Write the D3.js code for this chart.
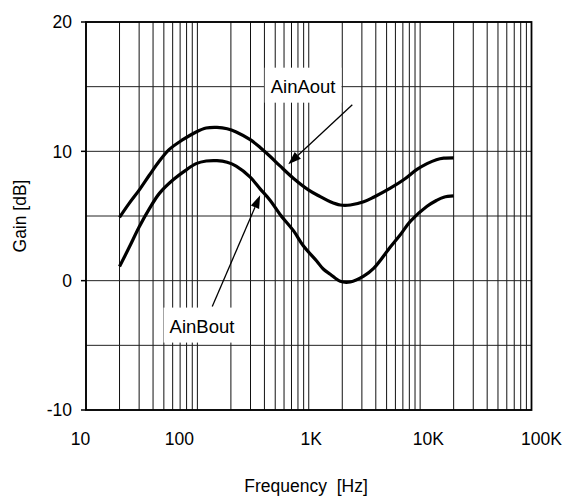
<!DOCTYPE html>
<html><head><meta charset="utf-8">
<script src="https://cdn.jsdelivr.net/npm/d3@7"></script>
<style>
html,body{margin:0;padding:0;background:#fff;}
text{font-family:"Liberation Sans",Arial,sans-serif;fill:#000;}
</style></head>
<body><svg id="c" width="578" height="499"></svg>
<script>
// ---- data ----
const freqTicks = [10, 100, 1000, 10000, 100000];
const freqTickLabels = ["10", "100", "1K", "10K", "100K"];
const gainTicks = [-10, 0, 10, 20];
const gainGrid = [-10, -5, 0, 5, 10, 15, 20];

const ainAoutFreq = [20, 24.5, 30, 37, 45.6, 56, 74, 97.5, 120, 150, 185, 223, 298, 366, 451, 555, 731, 1000, 1268, 1560, 1919, 2361, 3111, 3822, 5400, 7110, 9370, 11540, 14000, 16300, 20000];
const ainAoutGain = [4.9, 6.0, 7.0, 8.15, 9.25, 10.15, 10.9, 11.5, 11.8, 11.85, 11.75, 11.5, 10.9, 10.3, 9.6, 8.85, 7.9, 7.0, 6.5, 6.1, 5.85, 5.85, 6.1, 6.45, 7.15, 7.8, 8.6, 9.05, 9.35, 9.47, 9.5];

const ainBoutFreq = [20, 24.5, 30, 37, 45.6, 60.6, 79, 97.5, 120, 150, 185, 223, 298, 366, 451, 555, 731, 893, 1183, 1350, 1560, 1919, 2361, 3111, 3822, 5400, 6637, 8200, 11540, 14000, 16300, 20000];
const ainBoutGain = [1.1, 2.6, 4.15, 5.55, 6.75, 7.8, 8.55, 9.05, 9.25, 9.28, 9.15, 8.85, 8.0, 7.1, 6.2, 5.1, 3.85, 2.7, 1.5, 0.9, 0.5, -0.05, -0.1, 0.35, 0.95, 2.6, 3.55, 4.6, 5.75, 6.2, 6.45, 6.55];

const labels = ["AinAout", "AinBout"];
const labelPos = [[890, 15.05], [110, -3.5]];      // label centre (Hz, dB)
const arrowFrom = [[2460, 13.6], [136, -2.0]];     // arrow start (Hz, dB)
const arrowTo = [[655, 9.0], [366, 6.6]];          // arrow tip (Hz, dB)

// ---- layout ----
const svg = d3.select("#c");
const L = 86, R = 531.5, T = 22, B = 410;
const x = d3.scaleLog().domain([10, 100000]).range([L, R]);
const y = d3.scaleLinear().domain([-10, 20]).range([B, T]);

// grid
const vgrid = [];
for (let d = 10; d < 100000; d *= 10) for (let k = 1; k <= 9; k++) vgrid.push(d * k);
vgrid.push(100000);
svg.append("g").selectAll("line").data(vgrid).join("line")
  .attr("x1", d => x(d)).attr("x2", d => x(d)).attr("y1", T).attr("y2", B)
  .attr("stroke", "#111").attr("stroke-width", 1);
svg.append("g").selectAll("line").data(gainGrid).join("line")
  .attr("x1", L).attr("x2", R).attr("y1", d => y(d)).attr("y2", d => y(d))
  .attr("stroke", "#222").attr("stroke-width", 1);

// frame
svg.append("rect").attr("x", L).attr("y", T).attr("width", R - L).attr("height", B - T)
  .attr("fill", "none").attr("stroke", "#000").attr("stroke-width", 1.8);

// y ticks
const ya = svg.append("g");
ya.selectAll("line").data(gainTicks).join("line")
  .attr("x1", L - 5).attr("x2", L).attr("y1", d => y(d)).attr("y2", d => y(d))
  .attr("stroke", "#000").attr("stroke-width", 1.5);
ya.selectAll("text").data(gainTicks).join("text")
  .attr("x", 72).attr("y", d => y(d)).attr("dy", "0.36em")
  .attr("text-anchor", "end").attr("font-size", 17.5).text(d => d);

// x tick labels
const xLabelShift = [-5.5, -18, 2.5, 8.3, 10];
svg.append("g").selectAll("text").data(freqTicks).join("text")
  .attr("x", (d, i) => x(d) + xLabelShift[i]).attr("y", 445)
  .attr("text-anchor", "middle").attr("font-size", 17.5).text((d, i) => freqTickLabels[i]);

// axis titles
svg.append("text").attr("x", 306).attr("y", 492).attr("text-anchor", "middle")
  .attr("font-size", 17.5).attr("xml:space", "preserve").text("Frequency  [Hz]");
svg.append("text").attr("transform", "translate(26,216) rotate(-90)").attr("text-anchor", "middle")
  .attr("font-size", 17.5).text("Gain [dB]");

// curves
const line = d3.line().x(d => x(d[0])).y(d => y(d[1])).curve(d3.curveCatmullRom.alpha(0.5));
[[ainAoutFreq, ainAoutGain], [ainBoutFreq, ainBoutGain]].forEach(([f, g]) => {
  svg.append("path").datum(f.map((v, i) => [v, g[i]])).attr("d", line)
    .attr("fill", "none").attr("stroke", "#000").attr("stroke-width", 3.2)
    .attr("stroke-linejoin", "round");
});

// annotations
labels.forEach((t, i) => {
  const cx = x(labelPos[i][0]), cy = y(labelPos[i][1]);
  const tx = svg.append("text").attr("x", cx).attr("y", cy).attr("dy", "0.36em")
    .attr("text-anchor", "middle").attr("font-size", 18.5).text(t);
  const bb = tx.node().getBBox();
  svg.insert("rect", "path").attr("x", bb.x - 6).attr("y", bb.y - 8)
    .attr("width", bb.width + 12).attr("height", bb.height + 14).attr("fill", "#fff");
  const x1 = x(arrowFrom[i][0]), y1 = y(arrowFrom[i][1]);
  const x2 = x(arrowTo[i][0]), y2 = y(arrowTo[i][1]);
  const ang = Math.atan2(y2 - y1, x2 - x1), len = 13, w = 4.5;
  const bx = x2 - len * Math.cos(ang), by = y2 - len * Math.sin(ang);
  svg.append("line").attr("x1", x1).attr("y1", y1).attr("x2", bx).attr("y2", by)
    .attr("stroke", "#000").attr("stroke-width", 1.3);
  svg.append("path").attr("d", `M${x2},${y2}L${bx - w * Math.sin(ang)},${by + w * Math.cos(ang)}L${bx + w * Math.sin(ang)},${by - w * Math.cos(ang)}Z`)
    .attr("fill", "#000");
});
</script></body></html>
